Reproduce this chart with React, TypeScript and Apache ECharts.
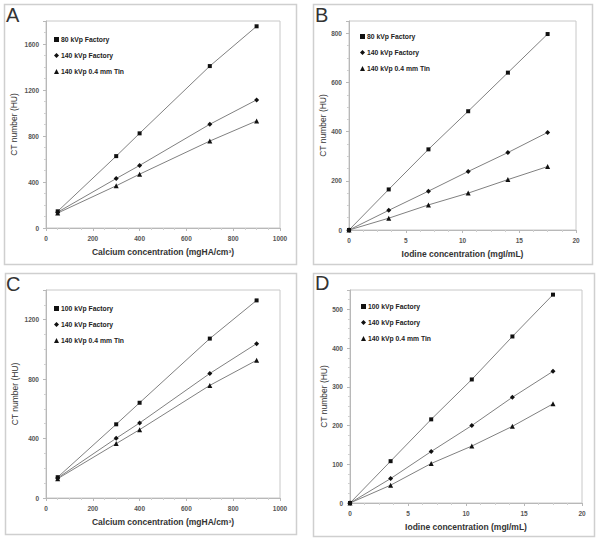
import React, { useEffect, useRef } from "react";
import * as echarts from "echarts";

// ---- data ----
const calciumX = [50, 300, 400, 700, 900];
const iodineX = [0, 3.5, 7, 10.5, 14, 17.5];

const a80 = [145, 625, 823, 1408, 1754];
const a140 = [138, 430, 544, 902, 1114];
const aTin = [130, 367, 468, 756, 931];

const b80 = [0, 165, 328, 483, 640, 797];
const b140 = [0, 80, 158, 238, 315, 397];
const bTin = [0, 48, 102, 150, 205, 258];

const c100 = [140, 496, 641, 1073, 1330];
const c140 = [135, 402, 505, 838, 1039];
const cTin = [130, 366, 460, 758, 927];

const d100 = [0, 108, 216, 319, 430, 538];
const d140 = [0, 63, 133, 200, 273, 340];
const dTin = [0, 46, 102, 147, 198, 256];

const panelLetters = ["A", "B", "C", "D"];
const legendAB = ["80 kVp Factory", "140 kVp Factory", "140 kVp 0.4 mm Tin"];
const legendCD = ["100 kVp Factory", "140 kVp Factory", "140 kVp 0.4 mm Tin"];
const calciumTitle = "Calcium concentration (mgHA/cm³)";
const iodineTitle = "Iodine concentration (mgI/mL)";
const yTitle = "CT number (HU)";

const FONT = "'Liberation Sans', Arial, sans-serif";
const symbols = ["rect", "diamond", "triangle"];
const symbolSizes = [4, 5, 5];

function pairs(xs: number[], ys: number[]) {
  return xs.map((x, i) => [x, ys[i]]);
}

export default function App() {
  const ref = useRef<HTMLDivElement>(null);
  useEffect(() => {
    if (!ref.current) return;
    const chart = echarts.init(ref.current, undefined, { renderer: "svg" });

    const grids = [
      { left: 46, top: 21, width: 234, height: 207 },
      { left: 349, top: 21, width: 227, height: 209 },
      { left: 46, top: 290, width: 234, height: 208 },
      { left: 350, top: 290, width: 232, height: 213 },
    ].map((g) => ({ ...g, show: true, borderColor: "#c8c8c8", borderWidth: 1 }));

    const axisCommon = {
      axisLine: { show: true, lineStyle: { color: "#b8b8b8", width: 1 } },
      axisTick: { show: true, length: 3, lineStyle: { color: "#b8b8b8" } },
      minorTick: { show: true, splitNumber: 4, length: 2, lineStyle: { color: "#d0d0d0" } },
      splitLine: { show: false },
      axisLabel: {
        fontSize: 6.5,
        fontWeight: "bold" as const,
        color: "#555",
        fontFamily: FONT,
        margin: 7,
        formatter: (v: number) => String(v),
      },
    };

    const xDefs = [
      { min: 0, max: 1000, interval: 200, name: calciumTitle },
      { min: 0, max: 20, interval: 5, name: iodineTitle },
      { min: 0, max: 1000, interval: 200, name: calciumTitle },
      { min: 0, max: 20, interval: 5, name: iodineTitle },
    ];
    const yDefs = [
      { min: 0, max: 1800, interval: 400, gap: 28 },
      { min: 0, max: 850, interval: 200, gap: 17 },
      { min: 0, max: 1400, interval: 400, gap: 27 },
      { min: 0, max: 550, interval: 100, gap: 17 },
    ];

    const xAxis = xDefs.map((d, i) => ({
      type: "value",
      gridIndex: i,
      min: d.min,
      max: d.max,
      interval: d.interval,
      name: d.name,
      nameLocation: "middle",
      nameGap: 19,
      nameTextStyle: { fontSize: 8.5, fontWeight: "bold", color: "#333", fontFamily: FONT },
      ...axisCommon,
    }));
    const yAxis = yDefs.map((d, i) => ({
      type: "value",
      gridIndex: i,
      min: d.min,
      max: d.max,
      interval: d.interval,
      name: yTitle,
      nameLocation: "middle",
      nameGap: d.gap,
      nameTextStyle: { fontSize: 8.5, color: "#333", fontFamily: FONT },
      ...axisCommon,
      axisLabel: { ...axisCommon.axisLabel, showMaxLabel: false },
    }));

    const panelSeries: { names: string[]; xs: number[]; ys: number[][] }[] = [
      { names: legendAB, xs: calciumX, ys: [a80, a140, aTin] },
      { names: legendAB, xs: iodineX, ys: [b80, b140, bTin] },
      { names: legendCD, xs: calciumX, ys: [c100, c140, cTin] },
      { names: legendCD, xs: iodineX, ys: [d100, d140, dTin] },
    ];

    const series: any[] = [];
    panelSeries.forEach((p, pi) => {
      p.ys.forEach((ys, si) => {
        series.push({
          type: "line",
          name: p.names[si],
          xAxisIndex: pi,
          yAxisIndex: pi,
          data: pairs(p.xs, ys),
          symbol: symbols[si],
          symbolSize: symbolSizes[si],
          showAllSymbol: true,
          itemStyle: { color: "#111" },
          lineStyle: { color: "#808080", width: 1 },
          z: 3,
        });
      });
    });

    const legendPos = [
      { left: 49, top: 31 },
      { left: 355, top: 28 },
      { left: 49, top: 300 },
      { left: 356, top: 298 },
    ];
    const legend = legendPos.map((pos, i) => ({
      ...pos,
      orient: "vertical",
      itemWidth: 5,
      itemHeight: 5,
      itemGap: 9,
      selectedMode: false,
      textStyle: {
        fontSize: 6.8,
        fontWeight: "bold",
        color: "#222",
        fontFamily: FONT,
        padding: [0, 0, 0, -3],
      },
      data: panelSeries[i].names.map((n, k) => ({
        name: n,
        icon: symbols[k],
        itemStyle: { color: "#111" },
      })),
    }));

    const frames = [
      { x: 4, y: 4, w: 292, h: 260 },
      { x: 313, y: 4, w: 279, h: 260 },
      { x: 5, y: 273, w: 291, h: 261 },
      { x: 313, y: 273, w: 281, h: 263 },
    ];
    const letterPos = [
      { x: 6, y: 5 },
      { x: 315, y: 5 },
      { x: 6, y: 274 },
      { x: 315, y: 273 },
    ];
    const graphic: any[] = [];
    frames.forEach((f) =>
      graphic.push({
        type: "rect",
        shape: { x: f.x + 0.5, y: f.y + 0.5, width: f.w, height: f.h },
        style: { fill: "none", stroke: "#cfcfcf", lineWidth: 1.5 },
        z: 0,
      })
    );
    panelLetters.forEach((t, i) =>
      graphic.push({
        type: "text",
        x: letterPos[i].x,
        y: letterPos[i].y,
        style: { text: t, fontSize: 20, fill: "#333", fontFamily: FONT },
        z: 5,
      })
    );

    chart.setOption({
      animation: false,
      backgroundColor: "#fff",
      grid: grids,
      xAxis,
      yAxis,
      legend,
      series,
      graphic,
    });
    return () => chart.dispose();
  }, []);

  return (
    <div
      ref={ref}
      style={{ position: "absolute", left: 0, top: 0, width: 602, height: 542 }}
    />
  );
}
